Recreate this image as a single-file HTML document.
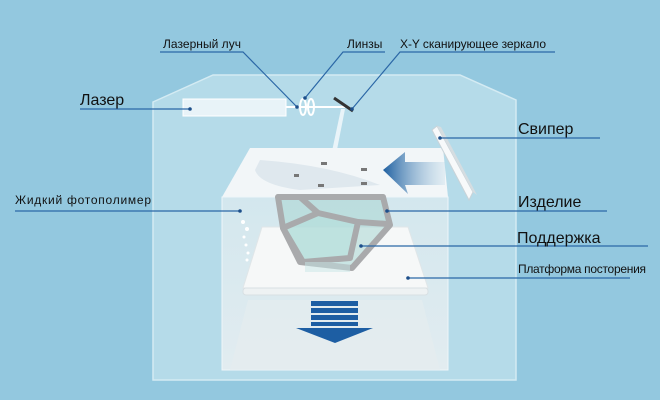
<!DOCTYPE html><html><head><meta charset="utf-8"><style>body{margin:0;width:660px;height:400px;overflow:hidden;background:#93c8df}svg{display:block}text{font-family:"Liberation Sans",sans-serif;fill:#111}</style></head><body>
<svg width="660" height="400" viewBox="0 0 660 400">
<defs>
<linearGradient id="tank" x1="0" y1="0" x2="0" y2="1"><stop offset="0" stop-color="#d3e7ee"/><stop offset="1" stop-color="#e2ecf0"/></linearGradient>
<linearGradient id="arr" x1="1" y1="0" x2="0" y2="0"><stop offset="0" stop-color="#bcd8e8" stop-opacity="0.3"/><stop offset="1" stop-color="#1e5fa0"/></linearGradient>
</defs>
<rect width="660" height="400" fill="#93c8df"/>
<polygon points="153,102 213,75 460,75 516,100 516,380 153,380" fill="#b5dbe9" stroke="#d4ebf3" stroke-width="1.5"/>
<rect x="183" y="99" width="103" height="17" fill="#e8f3f8" stroke="#fff"/>
<line x1="286" y1="107" x2="345" y2="107" stroke="#fff" stroke-width="2"/>
<ellipse cx="303" cy="107" rx="3" ry="8" fill="none" stroke="#fff" stroke-width="2"/>
<ellipse cx="311" cy="107" rx="3" ry="8" fill="none" stroke="#fff" stroke-width="2"/>
<line x1="334" y1="98" x2="353" y2="111" stroke="#333" stroke-width="3"/>
<polygon points="341,109 345,109 333,170 328,170" fill="#fff" opacity="0.7"/>
<polygon points="250,148 443,148 448,197 222,197" fill="#f2f6f8"/>
<path d="M260,160 Q330,165 380,185 L300,190 Q260,185 255,170Z" fill="#dfe8ee"/>
<rect x="222" y="197" width="226" height="173" fill="url(#tank)" stroke="#eef6f9"/>
<polygon points="248,300 422,300 440,370 230,370" fill="#e6ecee" opacity="0.6"/>
<polygon points="262,227 408,227 428,288 243,288" fill="#f6f8f8" stroke="#e0e6e8"/>
<rect x="243" y="288" width="185" height="7" rx="3" fill="#eef2f3" stroke="#d8e0e3"/>
<g stroke="#a9aaac" stroke-width="6" stroke-linejoin="round">
<polygon points="278,197 383,197 390,225 352,268 300,262 283,228" fill="#a8d6d2" fill-opacity="0.55"/>
<polygon points="283,228 318,213 358,222 350,258 303,262" fill="#b6e0dc" fill-opacity="0.6"/>
<polyline points="300,197 318,213 M358,222 370,197" fill="none"/>
<line x1="358" y1="222" x2="388" y2="224" fill="none"/>
</g>
<g fill="#c8e6e6" opacity="0.5"><rect x="305" y="262" width="45" height="10"/></g>
<g fill="#777"><rect x="321" y="162" width="6" height="3"/><rect x="294" y="174" width="5" height="3"/><rect x="318" y="184" width="6" height="3"/><rect x="361" y="168" width="6" height="3"/><rect x="361" y="182" width="6" height="3"/></g>
<polygon points="383,170 405,152 405,162 445,162 445,185 405,185 408,194" fill="url(#arr)"/>
<polygon points="432,130 437,126 473,192 469,200" fill="#f7f9fa" stroke="#c9d3d8"/>
<polygon points="437,126 441,127 477,195 473,192" fill="#d5dde1"/>
<g fill="#1d5ea3"><rect x="311" y="301" width="47" height="5"/><rect x="311" y="308" width="47" height="5"/><rect x="311" y="315" width="47" height="5"/><rect x="311" y="322" width="47" height="4"/><polygon points="296,328 373,328 335,343"/></g>
<g fill="#fff"><circle cx="243" cy="222" r="2"/><circle cx="247" cy="229" r="2"/><circle cx="244" cy="237" r="1.5"/><circle cx="246" cy="245" r="1.5"/><circle cx="248" cy="253" r="1.5"/><circle cx="247" cy="260" r="1.5"/></g>
<g stroke="#2b67a6" stroke-width="1.2" fill="none">
<polyline points="80,109 190,109"/>
<polyline points="160,52 243,52 297,107"/>
<polyline points="385,52 343,52 305,98"/>
<polyline points="555,52 400,52 352,109"/>
<polyline points="440,138 600,138"/>
<polyline points="15,211 240,211"/>
<polyline points="387,211 607,211"/>
<polyline points="361,246 648,246"/>
<polyline points="408,278 630,278"/>
</g>
<g fill="#1d4f8a"><circle cx="190" cy="109" r="1.8"/><circle cx="297" cy="107" r="1.8"/><circle cx="305" cy="98" r="1.8"/><circle cx="352" cy="109" r="1.8"/><circle cx="440" cy="138" r="1.8"/><circle cx="240" cy="211" r="1.8"/><circle cx="387" cy="211" r="1.8"/><circle cx="361" cy="246" r="1.8"/><circle cx="408" cy="278" r="1.8"/></g>
<text x="163" y="48" font-size="12" textLength="78">Лазерный луч</text>
<text x="347" y="48" font-size="12">Линзы</text>
<text x="400" y="48" font-size="12" textLength="146">X-Y сканирующее зеркало</text>
<text x="80" y="105" font-size="16">Лазер</text>
<text x="518" y="134" font-size="16">Свипер</text>
<text x="15" y="204" font-size="12" textLength="136">Жидкий фотополимер</text>
<text x="518" y="207" font-size="16">Изделие</text>
<text x="517" y="243" font-size="16">Поддержка</text>
<text x="518" y="273" font-size="12" textLength="128">Платформа посторения</text>
</svg></body></html>
